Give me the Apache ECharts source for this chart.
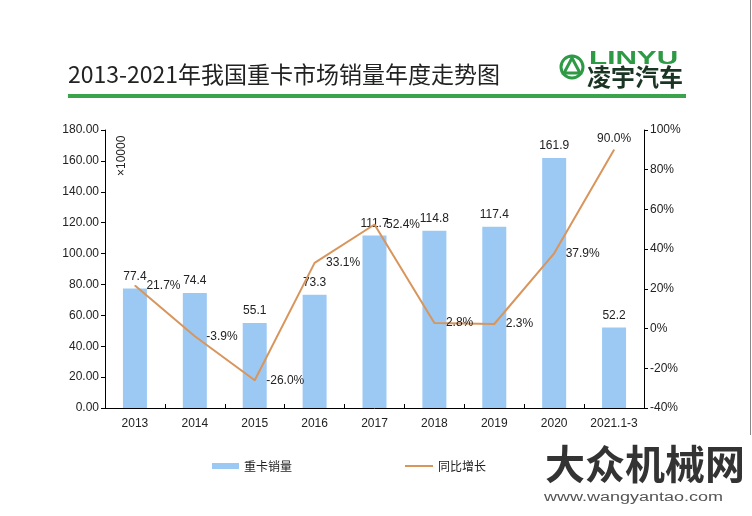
<!DOCTYPE html>
<html>
<head>
<meta charset="utf-8">
<script src="https://cdn.jsdelivr.net/npm/echarts@6/dist/echarts.min.js"></script>
<style>html,body{margin:0;padding:0;background:#fff}#c{width:752px;height:516px}</style>
</head>
<body>
<div id="c"></div>
<script>
const categories = ['2013','2014','2015','2016','2017','2018','2019','2020','2021.1-3'];
const salesValues = [77.4, 74.4, 55.1, 73.3, 111.7, 114.8, 117.4, 161.9, 52.2];
const growthValues = [21.7, -3.9, -26.0, 33.1, 52.4, 2.8, 2.3, 37.9, 90.0];
const leftTicks = {min: 0, max: 180, interval: 20};
const rightTicks = {min: -40, max: 100, interval: 20};

const FONT = '"Liberation Sans", Arial, sans-serif';
const CJK = '"Noto Sans CJK SC", sans-serif';
const chart = echarts.init(document.getElementById('c'), null, {renderer: 'canvas'});

const lastIdx = growthValues.length - 1;
const growthData = growthValues.map((v, i) => ({
  value: v,
  label: {show: true, position: i === lastIdx ? 'top' : 'right', distance: i === lastIdx ? 5 : 11}
}));

chart.setOption({
  animation: false,
  backgroundColor: '#fff',
  grid: {left: 105, right: 108, top: 130, bottom: 108, containLabel: false},
  xAxis: {
    type: 'category', data: categories,
    axisLine: {lineStyle: {color: '#000', width: 1}},
    axisTick: {show: true, inside: true, length: 4, alignWithLabel: false, lineStyle: {color: '#000'}},
    axisLabel: {color: '#222', fontSize: 12, fontFamily: FONT, margin: 10, interval: 0}
  },
  yAxis: [{
    type: 'value', min: leftTicks.min, max: leftTicks.max, interval: leftTicks.interval,
    axisLine: {show: true, lineStyle: {color: '#000'}},
    axisTick: {show: true, length: 4, lineStyle: {color: '#000'}},
    splitLine: {show: false},
    axisLabel: {color: '#222', fontSize: 12, fontFamily: FONT, margin: 6, formatter: v => v.toFixed(2)}
  }, {
    type: 'value', min: rightTicks.min, max: rightTicks.max, interval: rightTicks.interval,
    position: 'right',
    axisLine: {show: true, lineStyle: {color: '#000'}},
    axisTick: {show: true, length: 4, lineStyle: {color: '#000'}},
    splitLine: {show: false},
    axisLabel: {color: '#222', fontSize: 12, fontFamily: FONT, margin: 6, formatter: v => v + '%'}
  }],
  legend: [{
    left: 207, top: 455, itemWidth: 27, itemHeight: 6, icon: 'rect', itemGap: 10,
    data: ['重卡销量'],
    textStyle: {color: '#222', fontSize: 12, fontFamily: CJK}
  }, {
    left: 400, top: 455, itemWidth: 28, itemHeight: 2, icon: 'rect',
    data: ['同比增长'],
    textStyle: {color: '#222', fontSize: 12, fontFamily: CJK}
  }],
  series: [{
    name: '重卡销量', type: 'bar', data: salesValues, barWidth: 24,
    itemStyle: {color: '#9cc9f4'},
    label: {show: true, position: 'top', distance: 6, color: '#222', fontSize: 12, fontFamily: FONT}
  }, {
    name: '同比增长', type: 'line', yAxisIndex: 1, data: growthData,
    symbol: 'circle', symbolSize: 1, showSymbol: true,
    lineStyle: {color: '#d8955c', width: 2}, itemStyle: {color: '#d8955c'},
    label: {show: true, color: '#222', fontSize: 12, fontFamily: FONT, formatter: p => p.value.toFixed(1) + '%'},
    labelLayout: {hideOverlap: false}
  }],
  graphic: [
    {type: 'text', left: 68, top: 63, style: {text: '2013-2021年我国重卡市场销量年度走势图', fontSize: 23, fontFamily: CJK, fill: '#222'}},
    {type: 'rect', shape: {x: 68, y: 94, width: 618, height: 4}, style: {fill: '#3aa34c'}},
    {type: 'circle', shape: {cx: 572, cy: 67, r: 11}, style: {fill: 'none', stroke: '#2f9a46', lineWidth: 3}},
    {type: 'polygon', shape: {points: [[572, 58], [580, 73], [564, 73]]}, style: {fill: 'none', stroke: '#2f9a46', lineWidth: 3}},
    {type: 'text', x: 589, y: 50, scaleX: 1.65, style: {text: 'LINYU', fontSize: 18, fontWeight: 'bold', fontFamily: FONT, fill: '#2f9a46'}},
    {type: 'text', left: 587, top: 65, style: {text: '凌宇汽车', fontSize: 24, fontWeight: 'bold', fontFamily: CJK, fill: '#1b3524'}},
    {type: 'text', x: 116, y: 176, rotation: Math.PI / 2, style: {text: '×10000', fontSize: 12, fontFamily: FONT, fill: '#222'}},
    {type: 'text', left: 545, top: 444, style: {text: '大众机械网', fontSize: 40, fontWeight: 'bold', fontFamily: CJK, fill: '#333'}},
    {type: 'text', x: 544, y: 492, scaleX: 1.5, style: {text: 'www.wangyantao.com', fontSize: 12, fontFamily: FONT, fill: '#555'}},
    {type: 'line', shape: {x1: 750.5, y1: 0, x2: 750.5, y2: 435}, style: {stroke: '#888', lineWidth: 1}}
  ]
});
</script>
</body>
</html>
